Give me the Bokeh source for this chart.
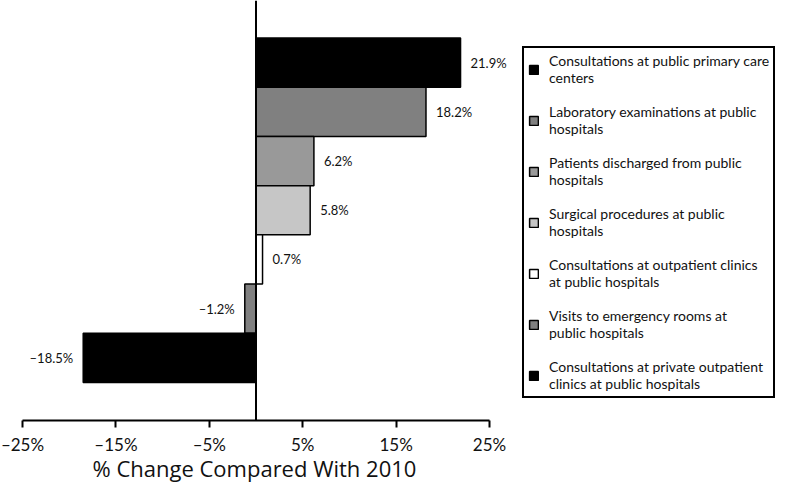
from bokeh.plotting import figure
from bokeh.models import (ColumnDataSource, FixedTicker, Legend, LegendItem, LabelSet, Span, Title)
from bokeh.core.properties import value
from bokeh.embed import file_html
from bokeh.resources import INLINE

categories = [
    "Consultations at public primary care\ncenters",
    "Laboratory examinations at public\nhospitals",
    "Patients discharged from public\nhospitals",
    "Surgical procedures at public\nhospitals",
    "Consultations at outpatient clinics\nat public hospitals",
    "Visits to emergency rooms at\npublic hospitals",
    "Consultations at private outpatient\nclinics at public hospitals",
]
values = [21.9, 18.2, 6.2, 5.8, 0.7, -1.2, -18.5]
colors = ["#000000", "#808080", "#999999", "#c6c6c6", "#ffffff", "#808080", "#000000"]
x_ticks = [-25, -15, -5, 5, 15, 25]
x_tick_labels = ["\u201325%", "\u201315%", "\u20135%", "5%", "15%", "25%"]
x_title = "% Change Compared With 2010"

FONT = "Lato"
n = len(values)
ypos = [n - i for i in range(n)]
labels = [("\u2013%.1f%%" % abs(v)) if v < 0 else ("%.1f%%" % v) for v in values]
aligns = ["right" if v < 0 else "left" for v in values]
offs = [-10 if v < 0 else 10 for v in values]

src = ColumnDataSource(dict(y=ypos, v=values, c=colors, lab=labels, al=aligns, off=offs))

W, H = 787, 485
px_per_unit = (489 - 22) / 50.0
x0 = -25 - 22 / px_per_unit
x1 = 25 + (W - 489) / px_per_unit
bar_px = (382 - 37.5) / n
y0, y1 = 0.5 - (420 - 382) / bar_px, n + 0.5 + 37.5 / bar_px

p = figure(width=W, height=H, x_range=(x0, x1), y_range=(y0, y1),
           output_backend="svg", toolbar_location=None, y_axis_location=None,
           min_border_left=0, min_border_right=0, min_border_top=0, min_border_bottom=65)
p.outline_line_color = None
p.xgrid.visible = False
p.ygrid.visible = False

p.add_layout(Span(location=0, dimension="height", line_color="black", line_width=2))

r = p.hbar(y="y", left=0, right="v", height=1.0, fill_color="c", line_color="black",
           line_width=1.5, source=src)

p.add_layout(LabelSet(x="v", y="y", text="lab", text_align="al", x_offset="off",
                      text_baseline="middle", text_font=value(FONT), text_font_size="13px",
                      text_color="#111111", source=src))

xa = p.xaxis[0]
xa.bounds = (-25, 25)
xa.ticker = FixedTicker(ticks=x_ticks)
xa.major_label_overrides = {t: l for t, l in zip(x_ticks, x_tick_labels)}
xa.minor_tick_line_color = None
xa.major_tick_in = 0
xa.major_tick_out = 7
xa.major_tick_line_width = 2
xa.axis_line_width = 2
xa.major_label_text_font = FONT
xa.major_label_text_font_size = "17px"
xa.major_label_text_color = "#111111"
xa.major_label_standoff = 6

p.add_layout(Title(text=x_title, align="left", offset=92, standoff=-13,
                   text_font="Open Sans", text_font_size="22px", text_font_style="normal",
                   text_color="#111111"), "below")

items = [LegendItem(label=categories[i], renderers=[r], index=i) for i in range(n)]
legend = Legend(items=items, location=(522, 22), border_line_color="black",
                border_line_width=2, border_line_alpha=1.0,
                background_fill_color="white", background_fill_alpha=1,
                label_text_font=FONT, label_text_font_size="14px", label_text_color="#111111",
                glyph_width=11, glyph_height=11, label_standoff=10, padding=4,
                spacing=17, margin=0, label_height=34)
p.add_layout(legend, "center")

open("out.html", "w").write(file_html(p, INLINE))
